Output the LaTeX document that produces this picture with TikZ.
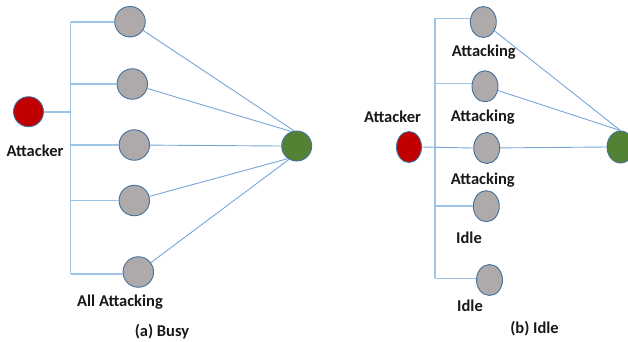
\documentclass[tikz,border=0pt]{standalone}
\usepackage{fontspec}
\setmainfont{Carlito}
\usetikzlibrary{shapes.geometric}
\definecolor{linkblue}{RGB}{120,166,216}
\definecolor{buslight}{RGB}{157,195,230}
\definecolor{rimblue}{RGB}{65,113,156}
\definecolor{hostgray}{RGB}{174,170,170}
\definecolor{atkred}{RGB}{192,0,0}
\definecolor{tgtgreen}{RGB}{84,130,53}
\tikzset{
  host/.style={circle, draw=rimblue, line width=0.9pt, fill=hostgray, minimum size=30.5pt, inner sep=0pt},
  hostb/.style={ellipse, draw=rimblue, line width=0.9pt, fill=hostgray, minimum width=26pt, minimum height=31pt, inner sep=0pt},
  attacker/.style={circle, draw=rimblue, line width=0.9pt, fill=atkred, minimum size=30pt, inner sep=0pt},
  attackerb/.style={ellipse, draw=rimblue, line width=0.9pt, fill=atkred, minimum width=25pt, minimum height=31pt, inner sep=0pt},
  target/.style={circle, draw=rimblue, line width=0.9pt, fill=tgtgreen, minimum size=30pt, inner sep=0pt},
  targetb/.style={ellipse, draw=rimblue, line width=0.9pt, fill=tgtgreen, minimum width=27pt, minimum height=32pt, inner sep=0pt},
  bus/.style={draw=buslight, line width=1.6pt},
  link/.style={draw=linkblue, line width=0.9pt},
  lbl/.style={font=\fontsize{16.5}{18}\selectfont\bfseries, text=black!90, inner sep=0pt},
}
\begin{document}
\begin{tikzpicture}[x=1pt, y=-1pt]
\useasboundingbox (0,0) rectangle (628,341);

% ---------- (a) Busy ----------
\node[attacker] (atkA) at (28.5,111.7) {};
\node[host] (a1) at (130,21.7) {};
\node[host] (a2) at (132.3,84) {};
\node[host] (a3) at (134.3,145) {};
\node[host] (a4) at (134.3,200.5) {};
\node[host] (a5) at (138.3,272) {};
\node[target] (tA) at (296.7,146) {};
\coordinate (busAtop) at (70.5,21.7);
\coordinate (busAbot) at (70.5,274);

\draw[bus] (busAtop) -- (busAbot);
\draw[bus] (busAtop) -- (a1.west);
\draw[bus] (a2.west -| busAtop) -- (a2.west);
\draw[bus] (a3.west -| busAtop) -- (a3.west);
\draw[bus] (a4.west -| busAtop) -- (a4.west);
\draw[bus] (busAbot) -- (a5.west |- busAbot);
\draw[bus] (atkA.east) -- (atkA.east -| busAtop);

\draw[link] (a1) -- (tA.100);
\draw[link] (a2) -- (tA.110);
\draw[link] (a3) -- (tA.west);
\draw[link] (a4) -- (tA.-125);
\draw[link] (a5) -- (tA.-120);

\node[lbl] (labAtkA) at (35,151) {Attacker};
\node[lbl] (labAll) at (120,302) {All Attacking};
\node[lbl] (capA) at (162,332) {(a) Busy};

% ---------- (b) Idle ----------
\node[attackerb] (atkB) at (409,147) {};
\node[hostb] (b1) at (483.3,22) {};
\node[hostb] (b2) at (485,86.3) {};
\node[hostb] (b3) at (486.7,148) {};
\node[hostb] (b4) at (486.3,206.2) {};
\node[hostb] (b5) at (489.5,280) {};
\node[targetb] (tB) at (620.5,147) {};
\coordinate (busBtop) at (435,18.3);
\coordinate (busBbot) at (435,278.3);

\draw[bus] (busBtop) -- (busBbot);
\draw[bus] (busBtop) -- (b1.west |- busBtop);
\draw[bus] (435,83.3) -- (b2.west |- 0,83.3);
\draw[bus] (435,205.7) -- (b4.west |- 0,205.7);
\draw[bus] (busBbot) -- (b5.west |- busBbot);
\draw[link] (atkB.east) -- (b3.west);

\draw[link] (b1) -- (tB.north);
\draw[link] (b2) -- (tB.north);
\draw[link] (b3) -- (tB.west);

\node[lbl] (labB1) at (483.8,52.3) {Attacking};
\node[lbl] (labB2) at (482.8,116.7) {Attacking};
\node[lbl] (labB3) at (482.8,180) {Attacking};
\node[lbl] (labB4) at (469,237.3) {Idle};
\node[lbl] (labB5) at (470,305.7) {Idle};
\node[lbl] (labAtkB) at (392.5,117) {Attacker};
\node[lbl] (capB) at (534.5,329) {(b) Idle};
\end{tikzpicture}
\end{document}
